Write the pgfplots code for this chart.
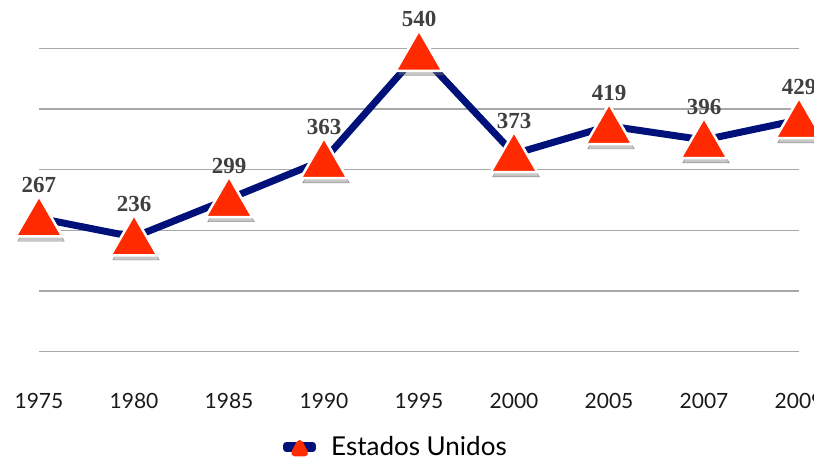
\documentclass[border=0pt]{standalone}
\usepackage{pgfplots}
\pgfplotsset{compat=1.18}
\usepackage{fontspec}
\setmainfont{Lato}
\newfontfamily\labelfont{Liberation Serif}
\definecolor{navyc}{RGB}{0,18,122}
\definecolor{redc}{RGB}{255,42,0}
\definecolor{labelc}{RGB}{64,64,64}
\definecolor{gridc}{RGB}{168,168,168}
\begin{document}
\begin{tikzpicture}
\path[use as bounding box] (-39pt,-108.3pt) rectangle (775pt,351.7pt);
\clip (-39pt,-108.3pt) rectangle (775pt,351.7pt);
\begin{axis}[
 at={(0pt,0pt)}, anchor=south west,
 scale only axis, width=760pt, height=303.4pt,
 xmin=0, xmax=8, ymin=47, ymax=547,
 clip=false,
 axis line style={draw=none},
 major tick length=0pt,
 xtick={0,1,2,3,4,5,6,7,8},
 xticklabels={1975,1980,1985,1990,1995,2000,2005,2007,2009},
 xticklabel style={font=\fontsize{21}{25}\selectfont, text=black!90, yshift=-38pt},
 ytick={47,147,247,347,447,547},
 yticklabels={},
 ymajorgrids,
 major grid style={gridc, line width=1.3pt},
 /pgf/number format/assume math mode=true,
 legend style={at={(0.321,-0.314)}, anchor=west, draw=none, fill=none, inner sep=0pt,
   font=\fontsize{26}{30}\selectfont,
   /tikz/every odd column/.append style={column sep=13pt}},
]
\addplot[forget plot, draw=none, mark=triangle*, mark size=27pt,
  mark options={fill=black!55, draw=none, opacity=0.4, xshift=2pt, yshift=-9.5pt}]
  coordinates {(0,267) (1,236) (2,299) (3,363) (4,540) (5,373) (6,419) (7,396) (8,429)};
\addplot[navyc, line width=7pt, line join=round, mark=triangle*, mark size=27pt,
  mark options={fill=redc, draw=white, line width=2.5pt, yshift=-4.75pt},
  nodes near coords,
  nodes near coords style={font=\labelfont\bfseries\fontsize{23}{27}\selectfont, text=labelc, anchor=south, yshift=29pt, inner sep=0pt},
  legend image code/.code={
    \fill[navyc] (0pt,-1.8pt) rectangle (9pt,1.8pt);
    \fill[navyc] (17pt,-1.8pt) rectangle (26pt,1.8pt);
    \fill[redc] (8pt,-6pt) -- (18pt,-6pt) -- (13pt,3.5pt) -- cycle;
  }]
  coordinates {(0,267) (1,236) (2,299) (3,363) (4,540) (5,373) (6,419) (7,396) (8,429)};
\legend{Estados Unidos}
\end{axis}
\end{tikzpicture}
\end{document}
